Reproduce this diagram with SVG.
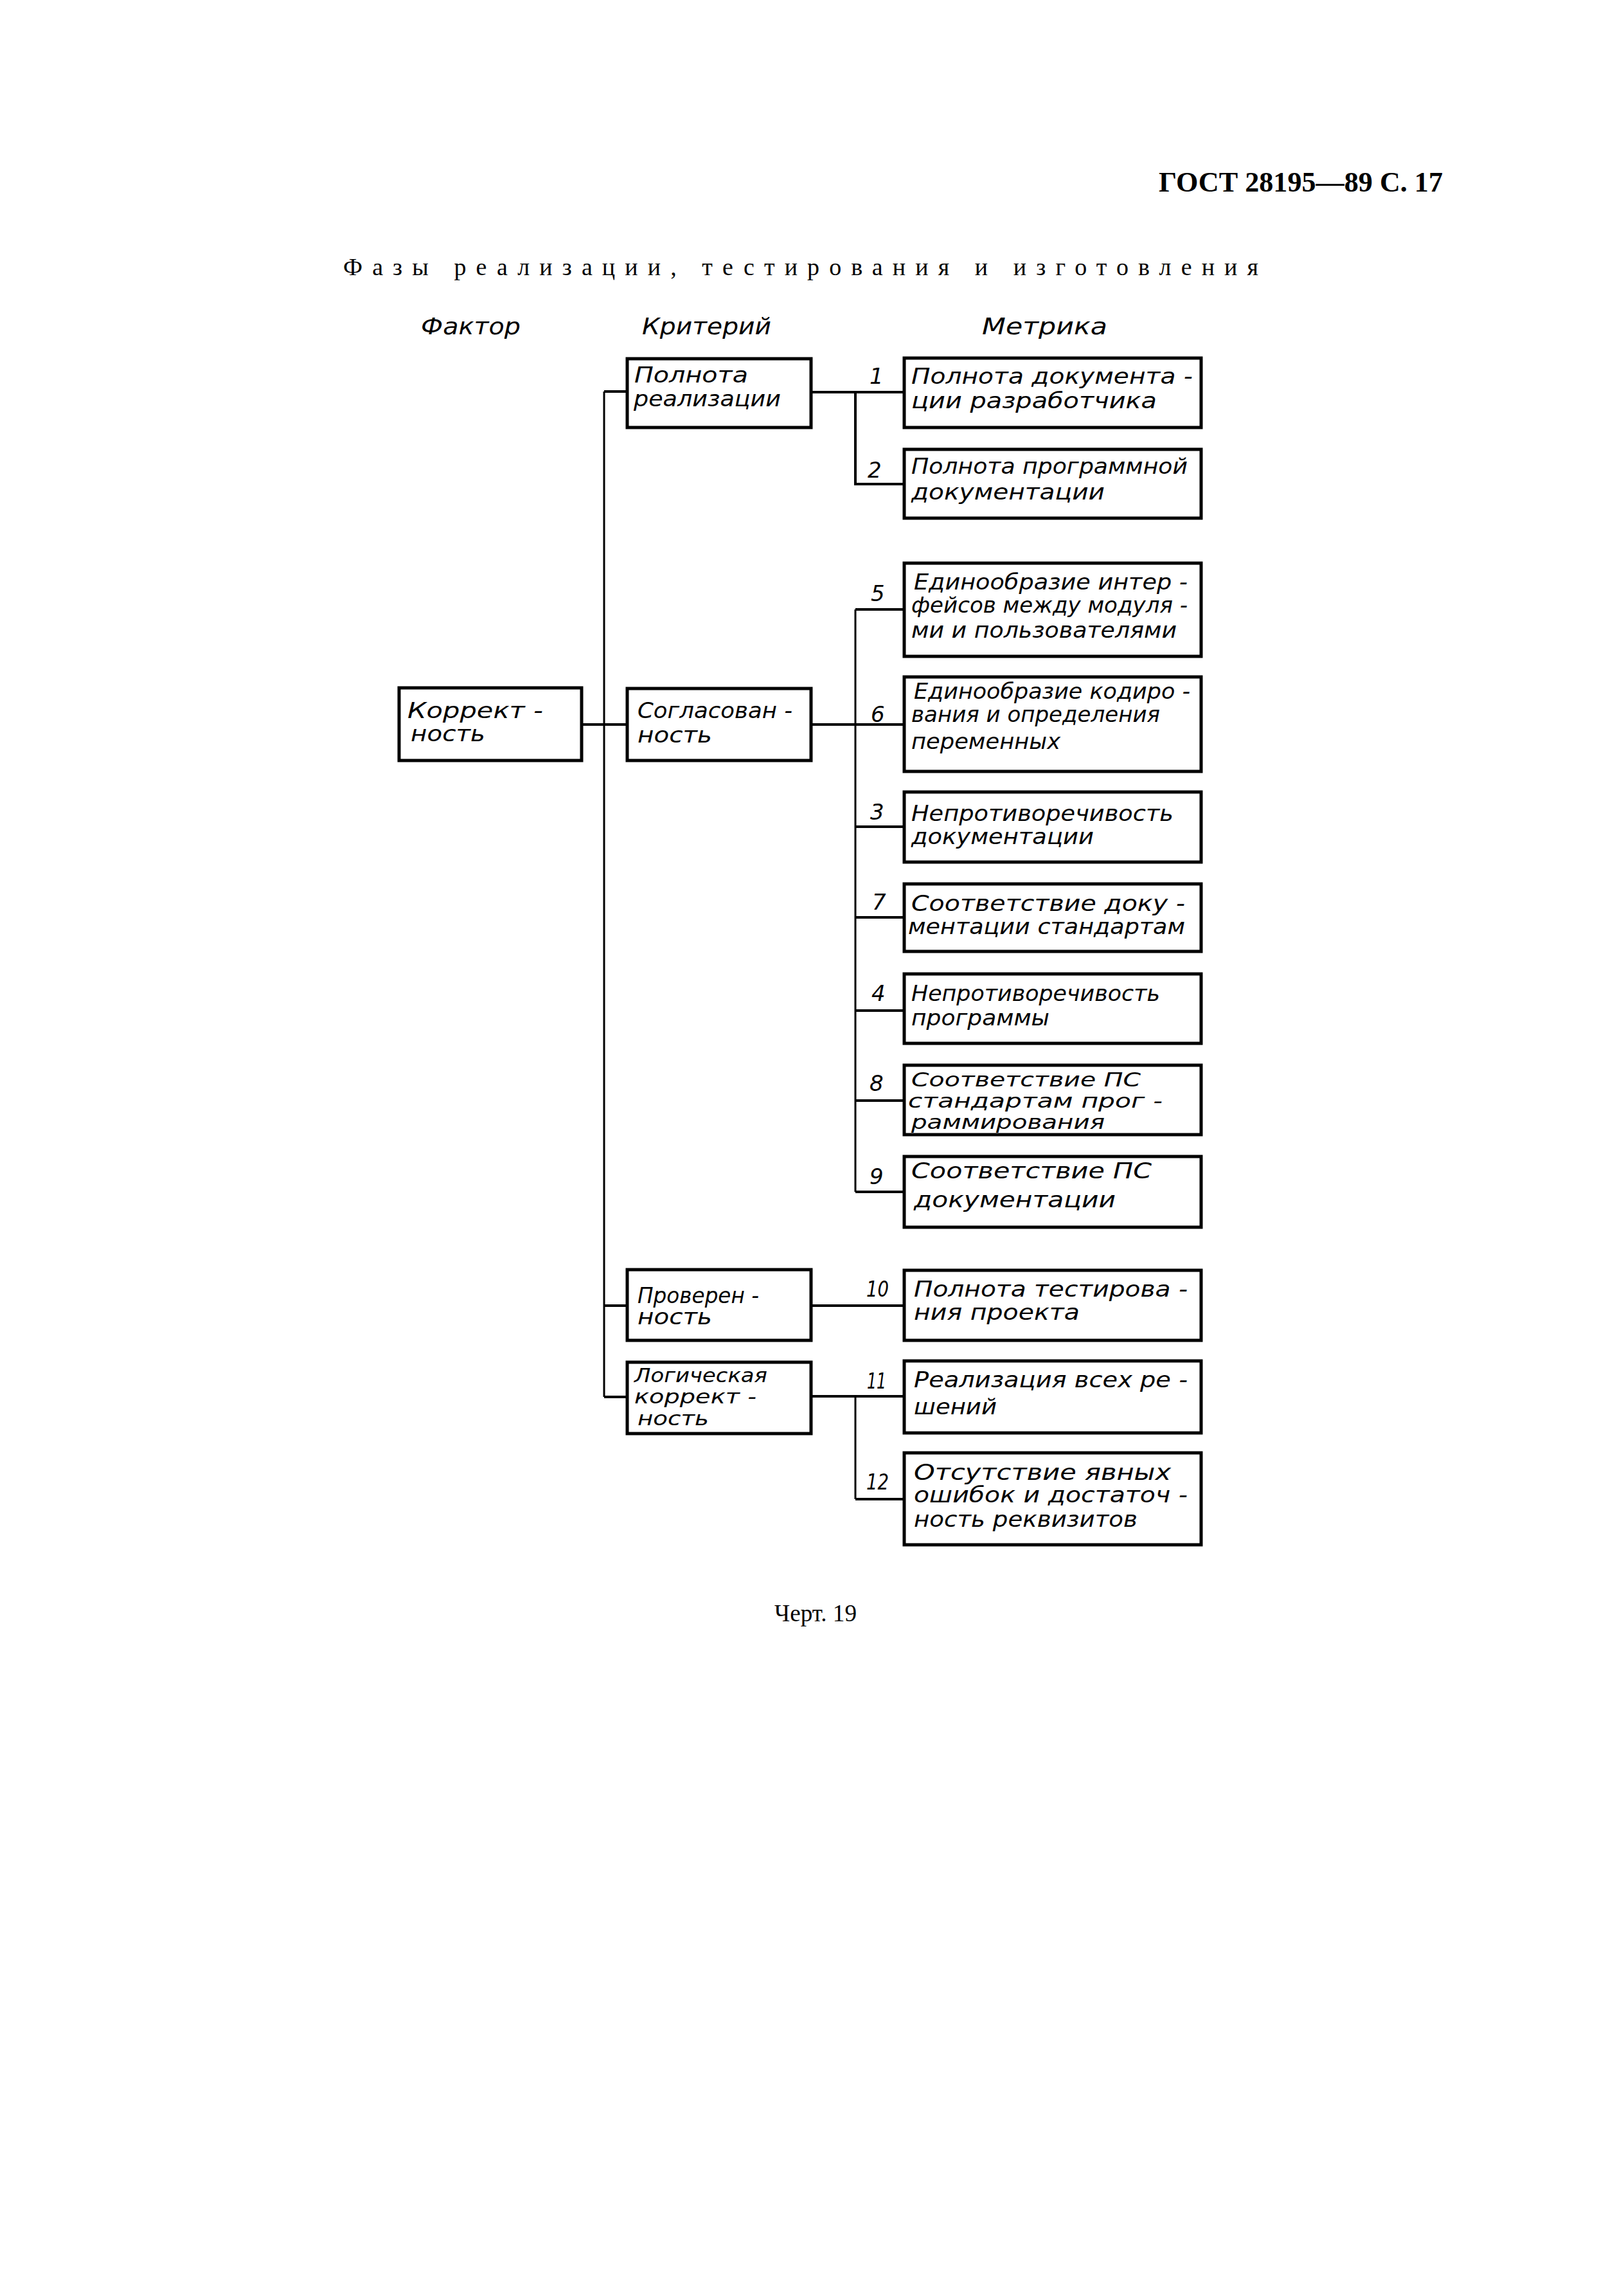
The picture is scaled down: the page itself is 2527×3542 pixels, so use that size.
<svg xmlns="http://www.w3.org/2000/svg" width="2527" height="3542" viewBox="0 0 2527 3542">
<style>
.bg{fill:#fff}
.box{fill:#fff;stroke:#000;stroke-width:5}
.h{font-family:"DejaVu Sans",sans-serif;font-style:oblique;font-size:34px;fill:#000}
.s{font-family:"DejaVu Sans",sans-serif;font-style:oblique;font-size:30px;fill:#000}
.n{font-family:"DejaVu Sans",sans-serif;font-style:oblique;font-size:34px;fill:#000}
.hd{font-family:"DejaVu Sans",sans-serif;font-style:oblique;font-size:36px;fill:#000}
.t{font-family:"Liberation Serif",serif;fill:#000}
.c{fill:none;stroke:#000;stroke-width:4}
.tr{fill:none;stroke:#000;stroke-width:3}
</style>
<rect class="bg" x="0" y="0" width="2527" height="3542"/>
<text class="t" x="1803" y="298" font-size="45" font-weight="bold" textLength="442" lengthAdjust="spacingAndGlyphs">ГОСТ 28195—89 С. 17</text>
<text class="t" x="534" y="428" font-size="38" textLength="1424" lengthAdjust="spacing">Фазы   реализации,   тестирования  и  изготовления</text>
<text class="hd" x="655" y="520" textLength="155" lengthAdjust="spacingAndGlyphs">Фактор</text>
<text class="hd" x="999" y="520" textLength="201" lengthAdjust="spacingAndGlyphs">Критерий</text>
<text class="hd" x="1528" y="520" textLength="195" lengthAdjust="spacingAndGlyphs">Метрика</text>

<g id="connectors">
<path class="tr" d="M940 609V2173"/>
<path class="c" d="M940 609H976M907 1127H976M940 2031H976M940 2173H976"/>
<path class="c" d="M1264 610H1407M1331 610V753H1407"/>
<path class="c" d="M1264 1127H1407M1331 948H1407M1331 1286H1407M1331 1427H1407M1331 1572H1407M1331 1712H1407M1331 1854H1407"/>
<path class="tr" d="M1331 948V1854"/>
<path class="c" d="M1264 2031H1407"/>
<path class="c" d="M1264 2172H1407M1331 2332H1407"/>
<path class="tr" d="M1331 2172V2332"/>
</g>

<g id="factor">
<rect class="box" x="621" y="1070" width="284" height="113"/>
<text class="h" x="634" y="1117" textLength="211" lengthAdjust="spacingAndGlyphs">Коррект -</text>
<text class="h" x="639" y="1153" textLength="116" lengthAdjust="spacingAndGlyphs">ность</text>
</g>

<g id="crit1">
<rect class="box" x="976" y="558" width="286" height="107"/>
<text class="h" x="987" y="595" textLength="177" lengthAdjust="spacingAndGlyphs">Полнота</text>
<text class="h" x="986" y="632" textLength="229" lengthAdjust="spacingAndGlyphs">реализации</text>
</g>
<g id="crit2">
<rect class="box" x="976" y="1071" width="286" height="112"/>
<text class="h" x="992" y="1117" textLength="241" lengthAdjust="spacingAndGlyphs">Согласован -</text>
<text class="h" x="992" y="1155" textLength="116" lengthAdjust="spacingAndGlyphs">ность</text>
</g>
<g id="crit3">
<rect class="box" x="976" y="1975" width="286" height="110"/>
<text class="h" x="992" y="2027" textLength="189" lengthAdjust="spacingAndGlyphs">Проверен -</text>
<text class="h" x="992" y="2060" textLength="116" lengthAdjust="spacingAndGlyphs">ность</text>
</g>
<g id="crit4">
<rect class="box" x="976" y="2119" width="286" height="111"/>
<text class="s" x="987" y="2150" textLength="207" lengthAdjust="spacingAndGlyphs">Логическая</text>
<text class="s" x="987" y="2183" textLength="190" lengthAdjust="spacingAndGlyphs">коррект -</text>
<text class="s" x="992" y="2217" textLength="111" lengthAdjust="spacingAndGlyphs">ность</text>
</g>

<g id="m1">
<rect class="box" x="1407" y="557" width="462" height="108"/>
<text class="n" x="1353" y="597">1</text>
<text class="h" x="1418" y="597" textLength="438" lengthAdjust="spacingAndGlyphs">Полнота документа -</text>
<text class="h" x="1418" y="635" textLength="382" lengthAdjust="spacingAndGlyphs">ции разработчика</text>
</g>
<g id="m2">
<rect class="box" x="1407" y="699" width="462" height="107"/>
<text class="n" x="1350" y="743">2</text>
<text class="h" x="1418" y="737" textLength="430" lengthAdjust="spacingAndGlyphs">Полнота программной</text>
<text class="h" x="1418" y="777" textLength="301" lengthAdjust="spacingAndGlyphs">документации</text>
</g>
<g id="m5">
<rect class="box" x="1407" y="876" width="462" height="145"/>
<text class="n" x="1355" y="935">5</text>
<text class="h" x="1422" y="917" textLength="426" lengthAdjust="spacingAndGlyphs">Единообразие  интер -</text>
<text class="h" x="1418" y="953" textLength="430" lengthAdjust="spacingAndGlyphs">фейсов между модуля -</text>
<text class="h" x="1418" y="992" textLength="413" lengthAdjust="spacingAndGlyphs">ми и пользователями</text>
</g>
<g id="m6">
<rect class="box" x="1407" y="1053" width="462" height="147"/>
<text class="n" x="1355" y="1123">6</text>
<text class="h" x="1422" y="1087" textLength="430" lengthAdjust="spacingAndGlyphs">Единообразие  кодиро -</text>
<text class="h" x="1418" y="1123" textLength="387" lengthAdjust="spacingAndGlyphs">вания и определения</text>
<text class="h" x="1418" y="1165" textLength="232" lengthAdjust="spacingAndGlyphs">переменных</text>
</g>
<g id="m3">
<rect class="box" x="1407" y="1232" width="462" height="109"/>
<text class="n" x="1354" y="1275">3</text>
<text class="h" x="1418" y="1277" textLength="408" lengthAdjust="spacingAndGlyphs">Непротиворечивость</text>
<text class="h" x="1418" y="1313" textLength="284" lengthAdjust="spacingAndGlyphs">документации</text>
</g>
<g id="m7">
<rect class="box" x="1407" y="1375" width="462" height="105"/>
<text class="n" x="1357" y="1415">7</text>
<text class="h" x="1418" y="1417" textLength="426" lengthAdjust="spacingAndGlyphs">Соответствие доку -</text>
<text class="h" x="1413" y="1453" textLength="431" lengthAdjust="spacingAndGlyphs">ментации стандартам</text>
</g>
<g id="m4">
<rect class="box" x="1407" y="1515" width="462" height="108"/>
<text class="n" x="1356" y="1557">4</text>
<text class="h" x="1418" y="1557" textLength="387" lengthAdjust="spacingAndGlyphs">Непротиворечивость</text>
<text class="h" x="1418" y="1595" textLength="215" lengthAdjust="spacingAndGlyphs">программы</text>
</g>
<g id="m8">
<rect class="box" x="1407" y="1657" width="462" height="108"/>
<text class="n" x="1353" y="1697">8</text>
<text class="s" x="1418" y="1690" textLength="357" lengthAdjust="spacingAndGlyphs">Соответствие  ПС</text>
<text class="s" x="1413" y="1723" textLength="396" lengthAdjust="spacingAndGlyphs">стандартам прог -</text>
<text class="s" x="1418" y="1756" textLength="301" lengthAdjust="spacingAndGlyphs">раммирования</text>
</g>
<g id="m9">
<rect class="box" x="1407" y="1799" width="462" height="110"/>
<text class="n" x="1353" y="1842">9</text>
<text class="h" x="1418" y="1833" textLength="374" lengthAdjust="spacingAndGlyphs">Соответствие ПС</text>
<text class="h" x="1422" y="1878" textLength="314" lengthAdjust="spacingAndGlyphs">документации</text>
</g>
<g id="m10">
<rect class="box" x="1407" y="1976" width="462" height="109"/>
<text class="n" x="1348" y="2017" textLength="35" lengthAdjust="spacingAndGlyphs">10</text>
<text class="h" x="1422" y="2017" textLength="426" lengthAdjust="spacingAndGlyphs">Полнота тестирова -</text>
<text class="h" x="1422" y="2053" textLength="258" lengthAdjust="spacingAndGlyphs">ния проекта</text>
</g>
<g id="m11">
<rect class="box" x="1407" y="2117" width="462" height="112"/>
<text class="n" x="1349" y="2160" textLength="30" lengthAdjust="spacingAndGlyphs">11</text>
<text class="h" x="1422" y="2158" textLength="426" lengthAdjust="spacingAndGlyphs">Реализация всех ре -</text>
<text class="h" x="1422" y="2200" textLength="129" lengthAdjust="spacingAndGlyphs">шений</text>
</g>
<g id="m12">
<rect class="box" x="1407" y="2260" width="462" height="143"/>
<text class="n" x="1348" y="2317" textLength="35" lengthAdjust="spacingAndGlyphs">12</text>
<text class="h" x="1422" y="2302" textLength="400" lengthAdjust="spacingAndGlyphs">Отсутствие  явных</text>
<text class="h" x="1422" y="2337" textLength="426" lengthAdjust="spacingAndGlyphs">ошибок и достаточ -</text>
<text class="h" x="1422" y="2375" textLength="348" lengthAdjust="spacingAndGlyphs">ность реквизитов</text>
</g>

<text class="t" x="1205" y="2522" font-size="37" textLength="128" lengthAdjust="spacingAndGlyphs">Черт. 19</text>
</svg>
